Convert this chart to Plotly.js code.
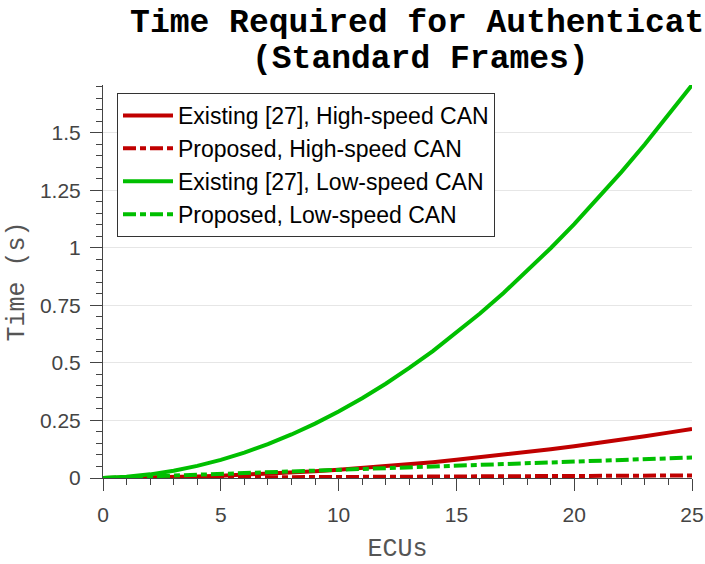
<!DOCTYPE html>
<html>
<head>
<meta charset="utf-8">
<script src="https://cdn.plot.ly/plotly-3.0.1.min.js"></script>
<style>html,body{margin:0;padding:0;background:#fff;}#chart{width:705px;height:564px;}</style>
</head>
<body>
<div id="chart"></div>
<script>
// Number of ECUs
var ecus = [0,1,2,3,4,5,6,7,8,9,10,11,12,13,14,15,16,17,18,19,20,21,22,23,24,25];
// Existing [27], High-speed CAN (s)
var existingHigh = [0,0.0007,0.0020,0.0039,0.0066,0.0099,0.0138,0.0184,0.0236,0.0295,0.0361,0.0433,0.0512,0.0597,0.0689,0.0788,0.0893,0.1004,0.1123,0.1247,0.1379,0.1516,0.1661,0.1812,0.1970,0.2134];
// Proposed, High-speed CAN (s)
var proposedHigh = [0,0.0004,0.0009,0.0013,0.0018,0.0022,0.0027,0.0031,0.0036,0.0040,0.0045,0.0049,0.0053,0.0058,0.0062,0.0067,0.0071,0.0076,0.0080,0.0085,0.0089,0.0093,0.0098,0.0102,0.0107,0.0111];
// Existing [27], Low-speed CAN (s)
var existingLow = [0,0.0053,0.0158,0.0315,0.0525,0.0788,0.1103,0.1471,0.1891,0.2363,0.2889,0.3466,0.4096,0.4779,0.5515,0.6302,0.7143,0.8036,0.8981,0.9980,1.1029,1.2132,1.3288,1.4496,1.5756,1.7070];
// Proposed, Low-speed CAN (s)
var proposedLow = [0,0.0036,0.0071,0.0107,0.0142,0.0178,0.0214,0.0249,0.0285,0.0320,0.0356,0.0392,0.0427,0.0463,0.0498,0.0534,0.0570,0.0605,0.0641,0.0676,0.0712,0.0748,0.0783,0.0819,0.0854,0.0890];

var seriesNames = ['Existing [27], High-speed CAN','Proposed, High-speed CAN','Existing [27], Low-speed CAN','Proposed, Low-speed CAN'];
var yTickVals = [0,0.25,0.5,0.75,1,1.25,1.5];
var yTickText = ['0','0.25','0.5','0.75','1','1.25','1.5'];
var xTickVals = [0,5,10,15,20,25];

var RED = '#c00000', GREEN = '#00bf00';
var DASHDOT = '13px,4px,6px,4px';
function tr(y, name, color, dash) {
  return {x: ecus, y: y, name: name, type: 'scatter', mode: 'lines',
          line: {color: color, width: 4, dash: dash}};
}
var data = [
  tr(existingHigh, seriesNames[0], RED, 'solid'),
  tr(proposedHigh, seriesNames[1], RED, DASHDOT),
  tr(existingLow, seriesNames[2], GREEN, 'solid'),
  tr(proposedLow, seriesNames[3], GREEN, DASHDOT)
];

var tickFont = {family: 'Liberation Sans, Arial, sans-serif', size: 21, color: '#444'};
var monoTitle = {family: 'Liberation Mono, Courier New, monospace', size: 25, color: '#555'};
var titleFont = {family: 'Liberation Mono, Courier New, monospace', size: 33, color: '#000'};

var layout = {
  width: 705, height: 564,
  margin: {l: 103, r: 13, t: 85, b: 86, pad: 0},
  paper_bgcolor: '#fff', plot_bgcolor: '#fff',
  showlegend: true,
  title: {
    text: '<b>Time Required for Authentication</b>',
    font: titleFont,
    xref: 'paper', x: 0.046, xanchor: 'left',
    yref: 'container', y: 1 - 20/564, yanchor: 'middle'
  },
  annotations: [{
    text: '<b>(Standard Frames)</b>', showarrow: false,
    font: titleFont,
    xref: 'paper', x: (420-103)/589, xanchor: 'center',
    yref: 'paper', y: (478-60)/393, yanchor: 'middle'
  }],
  xaxis: {
    range: [0, 25], autorange: false,
    tickvals: xTickVals, ticks: 'outside', ticklen: 12, tickwidth: 1, tickcolor: '#444',
    minor: {dtick: 1, ticks: 'outside', ticklen: 6, tickcolor: '#444', showgrid: false},
    showline: true, linecolor: '#444', linewidth: 1,
    showgrid: false, zeroline: false,
    tickfont: tickFont, ticklabelstandoff: 6,
    title: {text: 'ECUs', font: monoTitle, standoff: 14}
  },
  yaxis: {
    range: [0, 1.707], autorange: false,
    tickvals: yTickVals, ticktext: yTickText, ticks: 'outside', ticklen: 12, tickwidth: 1, tickcolor: '#444',
    minor: {dtick: 0.05, tick0: 0, ticks: 'outside', ticklen: 6, tickcolor: '#444', showgrid: false},
    showline: true, linecolor: '#444', linewidth: 1,
    showgrid: true, gridcolor: '#e6e6e6', gridwidth: 1, zeroline: false,
    tickfont: tickFont, ticklabelstandoff: 5,
    title: {text: 'Time (s)', font: monoTitle, standoff: 8}
  },
  legend: {
    x: (117-103)/589, y: (478-93)/393, xanchor: 'left', yanchor: 'top',
    bgcolor: '#fff', bordercolor: '#333', borderwidth: 1,
    font: {family: 'Liberation Sans, Arial, sans-serif', size: 23, color: '#000'},
    itemwidth: 50, tracegroupgap: 0
  }
};
Plotly.newPlot('chart', data, layout, {displayModeBar: false, staticPlot: true});
</script>
</body>
</html>
